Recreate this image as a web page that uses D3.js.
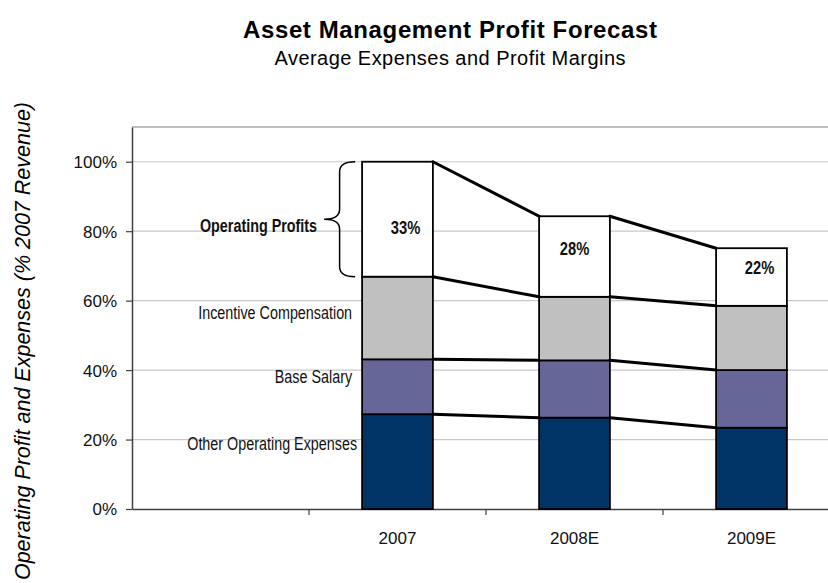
<!DOCTYPE html>
<html>
<head>
<meta charset="utf-8">
<script src="https://cdn.jsdelivr.net/npm/d3@7"></script>
<style>
  body { margin: 0; background: #fff; }
  text { font-family: Arial, "Liberation Sans", sans-serif; }
</style>
</head>
<body>
<div id="chart"></div>
<script>
// values, % of 2007 revenue
const years = ["2007", "2008E", "2009E"];
const otherOpex = [27.3, 26.3, 23.4];
const baseSalary = [15.8, 16.5, 16.6];
const incentive = [23.8, 18.3, 18.5];
const profit = [33.1, 23.2, 16.6];
const marginLabels = ["33%", "28%", "22%"];
const seriesNames = ["Other Operating Expenses", "Base Salary", "Incentive Compensation", "Operating Profits"];
const yTicks = [0, 20, 40, 60, 80, 100];

const width = 828, height = 583;
const colors = ["#003366", "#666699", "#C0C0C0", "#FFFFFF"];
const narrow = 0.82; // the labels use a condensed face, squeeze Arial instead

const svg = d3.select("#chart").append("svg")
    .attr("width", width)
    .attr("height", height);

// first slot on the x axis is left empty for the labels
const x = d3.scaleBand()
    .domain(["", ...years])
    .range([132, 840])
    .paddingInner(0);

const y = d3.scaleLinear()
    .domain([0, 110])
    .range([509, 127]);

const barW = x.bandwidth() * 0.4;

// table for the stack
const rows = years.map((yr, i) => ({
    year: yr,
    other: otherOpex[i],
    base: baseSalary[i],
    incentive: incentive[i],
    profit: profit[i]
}));
const keys = ["other", "base", "incentive", "profit"];
const stacked = d3.stack().keys(keys)(rows);

// gridlines
svg.append("g")
    .selectAll("line")
    .data(yTicks.filter(d => d > 0))
    .enter()
    .append("line")
    .attr("x1", 132)
    .attr("x2", 840)
    .attr("y1", d => y(d))
    .attr("y2", d => y(d))
    .attr("stroke", "#c8c8c8")
    .attr("stroke-width", 1.2);

// top frame
svg.append("line")
    .attr("x1", 132).attr("x2", 840)
    .attr("y1", y(110)).attr("y2", y(110))
    .attr("stroke", "#808080")
    .attr("stroke-width", 1.2);

// y axis
const yAxis = svg.append("g")
    .attr("transform", "translate(132,0)")
    .call(d3.axisLeft(y).tickValues(yTicks).tickFormat(d => d + "%").tickSize(6).tickPadding(9).tickSizeOuter(0));
yAxis.select(".domain").attr("stroke", "#404040").attr("stroke-width", 1.5);
yAxis.selectAll(".tick line").attr("stroke", "#404040").attr("stroke-width", 1.2);
yAxis.selectAll(".tick text")
    .style("font-family", "Arial, 'Liberation Sans', sans-serif")
    .style("font-size", "17px")
    .attr("fill", "#111")
    .attr("dy", "0.35em");

// x axis
const xAxis = svg.append("g")
    .attr("transform", "translate(0,509)")
    .call(d3.axisBottom(x).tickSize(0).tickPadding(23));
xAxis.select(".domain").attr("stroke", "#404040").attr("stroke-width", 1.5);
xAxis.selectAll(".tick text")
    .style("font-family", "Arial, 'Liberation Sans', sans-serif")
    .style("font-size", "17px")
    .attr("fill", "#111");
// tick marks between categories
svg.append("g")
    .selectAll("line")
    .data(years)
    .enter()
    .append("line")
    .attr("x1", d => x(d))
    .attr("x2", d => x(d))
    .attr("y1", 509)
    .attr("y2", 515)
    .attr("stroke", "#404040")
    .attr("stroke-width", 1.2);

// stacked bars
const layers = svg.append("g")
    .selectAll("g")
    .data(stacked)
    .enter()
    .append("g")
    .attr("fill", (d, i) => colors[i]);

layers.selectAll("rect")
    .data(d => d)
    .enter()
    .append("rect")
    .attr("x", d => x(d.data.year) + (x.bandwidth() - barW) / 2)
    .attr("y", d => y(d[1]))
    .attr("width", barW)
    .attr("height", d => y(d[0]) - y(d[1]))
    .attr("stroke", "#000")
    .attr("stroke-width", 1.8);

// connector lines between bar segment tops
stacked.forEach(function (layer) {
    for (let i = 0; i < layer.length - 1; i++) {
        const a = layer[i], b = layer[i + 1];
        svg.append("line")
            .attr("x1", x(a.data.year) + (x.bandwidth() + barW) / 2)
            .attr("y1", y(a[1]))
            .attr("x2", x(b.data.year) + (x.bandwidth() - barW) / 2)
            .attr("y2", y(b[1]))
            .attr("stroke", "#000")
            .attr("stroke-width", 3)
            .attr("stroke-linecap", "round");
    }
});

// profit margin labels
const profitLayer = stacked[3];
const nudge = [[8, 8], [0, -8], [8, -9]];
svg.append("g")
    .selectAll("g")
    .data(profitLayer)
    .enter()
    .append("g")
    .attr("transform", (d, i) => "translate(" + (x(d.data.year) + x.bandwidth() / 2 + nudge[i][0]) + "," +
        ((y(d[0]) + y(d[1])) / 2 + nudge[i][1]) + ") scale(" + narrow + ",1)")
    .append("text")
    .attr("dy", "0.35em")
    .attr("text-anchor", "middle")
    .style("font-size", "18px")
    .style("font-weight", "bold")
    .attr("fill", "#111")
    .text((d, i) => marginLabels[i]);

// series labels to the left of the first bar
const first = stacked.map(l => l[0]);
const bar0 = x(years[0]) + (x.bandwidth() - barW) / 2;
const labelShift = [-18, -10, -5, 7];
svg.append("g")
    .selectAll("g")
    .data(first)
    .enter()
    .append("g")
    .attr("transform", (d, i) => "translate(" + (i === 3 ? bar0 - 45 : (i === 0 ? bar0 - 5 : bar0 - 10)) + "," +
        ((y(d[0]) + y(d[1])) / 2 + labelShift[i]) + ") scale(" + narrow + ",1)")
    .append("text")
    .attr("dy", "0.35em")
    .attr("text-anchor", "end")
    .style("font-size", "17.5px")
    .style("font-weight", (d, i) => i === 3 ? "bold" : "normal")
    .attr("fill", "#111")
    .text((d, i) => seriesNames[i]);

// curly brace around the 2007 profit segment
const pTop = y(first[3][1]), pBot = y(first[3][0]), pMid = (pTop + pBot) / 2;
const xe = bar0 - 7, xt = bar0 - 38, xm = (xe + xt) / 2, r = 10;
svg.append("path")
    .attr("d", `M${xe},${pTop} Q${xm},${pTop} ${xm},${pTop + r} L${xm},${pMid - r} Q${xm},${pMid} ${xt},${pMid} ` +
               `Q${xm},${pMid} ${xm},${pMid + r} L${xm},${pBot - r} Q${xm},${pBot} ${xe},${pBot}`)
    .attr("fill", "none")
    .attr("stroke", "#000")
    .attr("stroke-width", 1.5);

// titles
svg.append("text")
    .attr("x", 450)
    .attr("y", 38)
    .attr("text-anchor", "middle")
    .attr("textLength", 414)
    .style("font-size", "24px")
    .style("font-weight", "bold")
    .attr("fill", "#000")
    .text("Asset Management Profit Forecast");

svg.append("text")
    .attr("x", 450)
    .attr("y", 65)
    .attr("text-anchor", "middle")
    .attr("textLength", 351)
    .style("font-size", "20px")
    .attr("fill", "#000")
    .text("Average Expenses and Profit Margins");

// y axis title
svg.append("text")
    .attr("transform", "translate(30,102) rotate(-90)")
    .attr("text-anchor", "end")
    .style("font-size", "21.5px")
    .style("font-style", "italic")
    .attr("fill", "#000")
    .text("Operating Profit and Expenses  (% 2007 Revenue)");
</script>
</body>
</html>
